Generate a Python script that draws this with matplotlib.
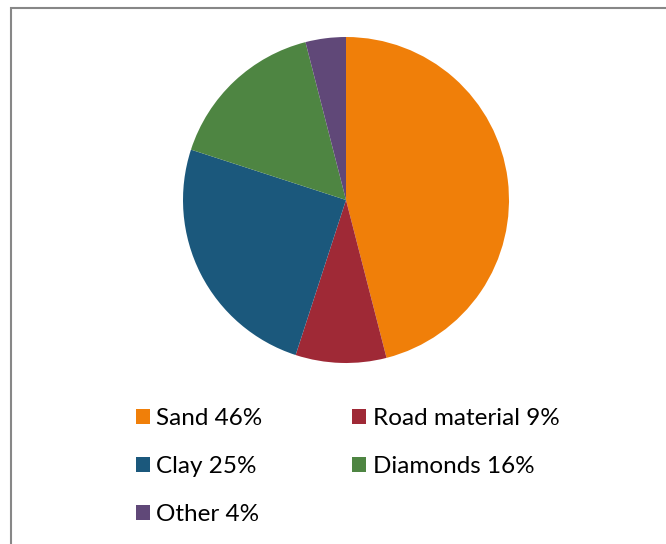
import matplotlib.pyplot as plt
from matplotlib.patches import Rectangle, Patch

# data
labels = ['Sand', 'Road material', 'Clay', 'Diamonds', 'Other']
shares = [46, 9, 25, 16, 4]
colors = ['#F07F09', '#9F2936', '#1B587C', '#4E8542', '#604878']

W, H = 666, 544
fig = plt.figure(figsize=(W / 100, H / 100), dpi=100)

# outer chart frame (cut off at right and bottom, like the source)
fig.patches.append(Rectangle((11 / W, -0.1), 1.2, 1 - 7.7 / H + 0.1,
                             transform=fig.transFigure, fill=False,
                             edgecolor='#878787', linewidth=1.5))

# pie, centre (346, 200) px, radius 163 px
cx, cy, r = 346, 200, 163
ax = fig.add_axes([(cx - r) / W, (H - cy - r) / H, 2 * r / W, 2 * r / H])
ax.pie(shares, colors=colors, startangle=90, counterclock=False, radius=1)
ax.set_xlim(-1, 1)
ax.set_ylim(-1, 1)
ax.set_aspect('equal')
ax.axis('off')

# legend, filled row by row
legend_text = [f'{l} {s}%' for l, s in zip(labels, shares)]
handles = [Patch(facecolor=c, edgecolor='none') for c in colors]
order = [0, 2, 4, 1, 3]
fig.legend([handles[i] for i in order], [legend_text[i] for i in order],
           ncol=2, loc='upper left', bbox_to_anchor=(136 / W, 1 - 408 / H),
           frameon=False, prop={'family': 'Lato', 'size': 17.5},
           handlelength=0.58, handleheight=0.58, handletextpad=0.25,
           labelspacing=1.12, columnspacing=3.7, borderpad=0, borderaxespad=0)

fig.savefig('out.png', dpi=100)
